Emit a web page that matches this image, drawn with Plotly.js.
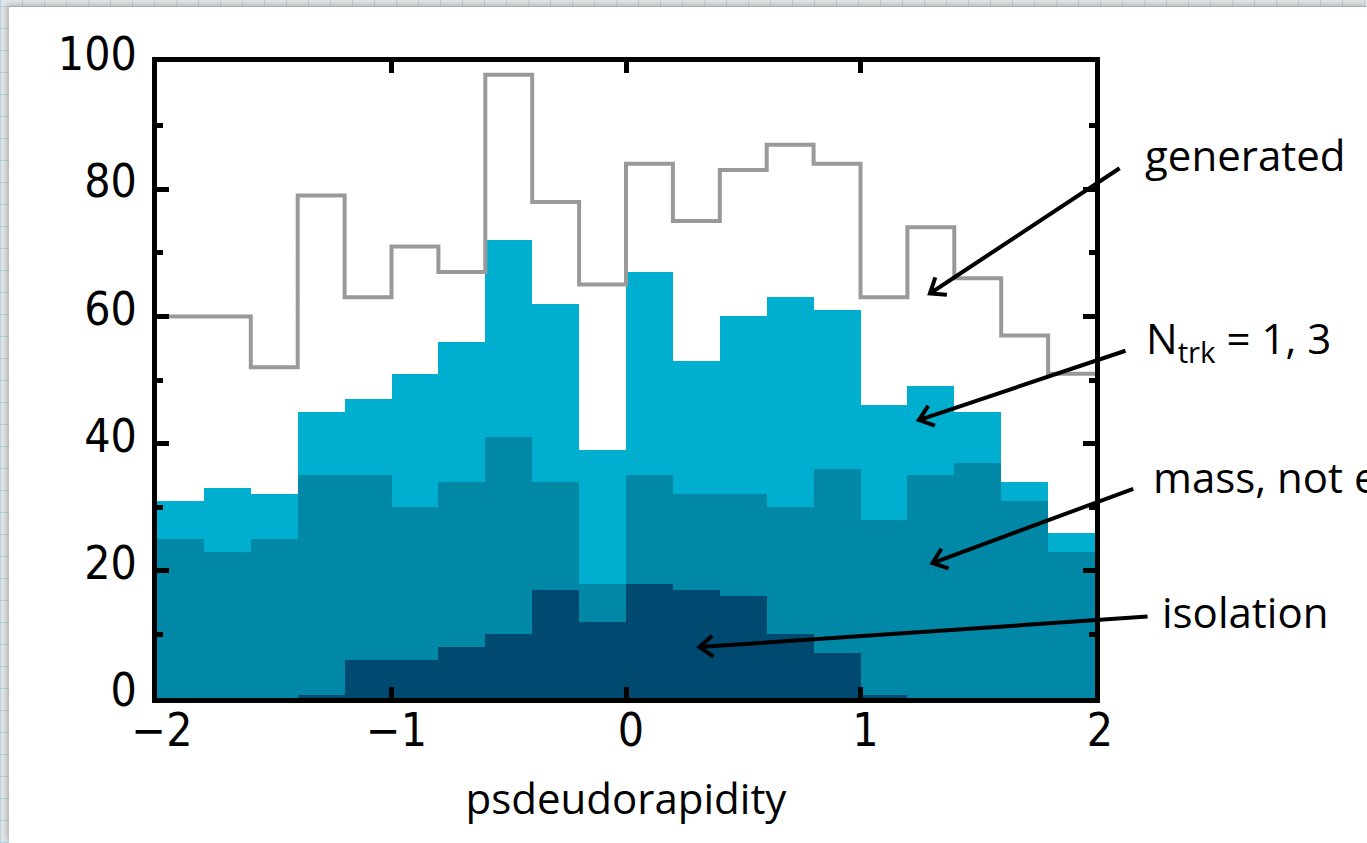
<!DOCTYPE html>
<html>
<head>
<meta charset="utf-8">
<script src="https://cdn.plot.ly/plotly-3.0.1.min.js"></script>
<style>
  html, body { margin: 0; padding: 0; }
  body {
    width: 1367px; height: 843px; overflow: hidden; position: relative;
    background-color: #e1e3e4;
    background-image:
      repeating-linear-gradient(0deg, rgba(165,205,218,0.7) 0 1px, transparent 1px 22px),
      repeating-linear-gradient(90deg, rgba(165,205,218,0.7) 0 1px, transparent 1px 22px);
  }
  #panel {
    position: absolute; left: 9px; top: 7px; right: 0; bottom: 0;
    background: #ffffff;
    box-shadow: -2px -2px 5px rgba(0,0,0,0.22);
  }
  #chart { position: absolute; left: 0; top: 0; width: 1367px; height: 843px; }
</style>
</head>
<body>
<div id="panel"></div>
<div id="chart"></div>
<script>
// Pseudorapidity bins (centres, width 0.2) from -2 to 2
const binCenters = [-1.9, -1.7, -1.5, -1.3, -1.1, -0.9, -0.7, -0.5, -0.3, -0.1,
                     0.1,  0.3,  0.5,  0.7,  0.9,  1.1,  1.3,  1.5,  1.7,  1.9];
const binEdges = [-2.0, -1.8, -1.6, -1.4, -1.2, -1.0, -0.8, -0.6, -0.4, -0.2, 0.0,
                   0.2,  0.4,  0.6,  0.8,  1.0,  1.2,  1.4,  1.6,  1.8,  2.0];
const binWidth = 0.2;

// Event counts per bin after each selection stage
const generated = [60, 60, 52, 79, 63, 71, 67, 98, 78, 65, 84, 75, 83, 87, 84, 63, 74, 66, 57, 51];
const nTrk13    = [31, 33, 32, 45, 47, 51, 56, 72, 62, 39, 67, 53, 60, 63, 61, 46, 49, 45, 34, 26];
const massNotE  = [25, 23, 25, 35, 35, 30, 34, 41, 34, 18, 35, 32, 32, 30, 36, 28, 35, 37, 31, 23];
const isolation = [0, 0, 0, 0.4, 6, 6, 8, 10, 17, 12, 18, 17, 16, 10, 7, 0.4, 0, 0, 0, 0];

const xRange = [-2, 2];
const yRange = [0, 100];

const W = 1367, H = 843;
const M = { l: 157, r: 272, t: 62, b: 145 };
const plotW = W - M.l - M.r, plotH = H - M.t - M.b;

function bars(y, color, name) {
  return {
    type: 'bar', x: binCenters, y: y, width: binWidth, name: name,
    marker: { color: color, line: { width: 0 } },
    hoverinfo: 'x+y'
  };
}

const traces = [
  bars(nTrk13, '#00afd0', 'N_trk = 1, 3'),
  bars(massNotE, '#0088a6', 'mass, not e'),
  bars(isolation, '#004a71', 'isolation'),
  {
    type: 'scatter', mode: 'lines', name: 'generated',
    x: binEdges, y: generated.concat([generated[generated.length - 1]]),
    line: { shape: 'hv', color: '#999999', width: 4 },
    hoverinfo: 'x+y'
  }
];

// Convert data units to pixel offsets inside the plot area and to paper units
function toPx(x, y) {
  return [ (x - xRange[0]) / (xRange[1] - xRange[0]) * plotW,
           (1 - (y - yRange[0]) / (yRange[1] - yRange[0])) * plotH ];
}
function toPaper(p) { return [p[0] / plotW, 1 - p[1] / plotH]; }

// Arrow from a label towards a histogram, with an open chevron head
function arrowPath(tail, head) {
  const t = toPx(tail[0], tail[1]);
  const h = toPx(head[0], head[1]);
  const dx = h[0] - t[0], dy = h[1] - t[1];
  const len = Math.hypot(dx, dy);
  const ux = dx / len, uy = dy / len;
  const L = 17, a = 38 * Math.PI / 180;
  const arm = s => {
    const c = Math.cos(s * a), sn = Math.sin(s * a);
    const rx = ux * c - uy * sn, ry = ux * sn + uy * c;
    return [h[0] - L * rx, h[1] - L * ry];
  };
  const P = [t, h, arm(1), arm(-1)].map(toPaper);
  const f = p => p[0].toFixed(5) + ',' + p[1].toFixed(5);
  return 'M' + f(P[0]) + 'L' + f(P[1]) + 'M' + f(P[2]) + 'L' + f(P[1]) + 'L' + f(P[3]);
}

const arrows = [
  { tail: [2.105, 83.3], head: [1.296, 63.6] },
  { tail: [2.130, 54.6], head: [1.249, 43.7] },
  { tail: [2.163, 32.9], head: [1.307, 21.2] },
  { tail: [2.224, 12.8], head: [0.313, 8.0] }
];

const shapes = arrows.map(a => ({
  type: 'path', xref: 'paper', yref: 'paper', layer: 'above',
  path: arrowPath(a.tail, a.head),
  line: { color: '#000000', width: 4 }
}));

const labelFont = { family: '"Open Sans", "Noto Sans", sans-serif', size: 42, color: '#000000' };
const labels = [
  { text: 'generated', x: 2.205, y: 85.4 },
  { text: 'N<sub>trk</sub> = 1, 3', x: 2.208, y: 56.2 },
  { text: 'mass, not e', x: 2.240, y: 34.9 },
  { text: 'isolation', x: 2.279, y: 13.6 }
];
const annotations = labels.map(l => {
  const p = toPaper(toPx(l.x, l.y));
  return {
    xref: 'paper', yref: 'paper', x: p[0], y: p[1],
    xanchor: 'left', yanchor: 'middle', showarrow: false,
    text: l.text, font: labelFont
  };
});

const tickFont = { family: '"DejaVu Sans Condensed", "Liberation Sans Narrow", sans-serif', size: 46, color: '#000000' };

const layout = {
  width: W, height: H, margin: M,
  paper_bgcolor: 'rgba(0,0,0,0)', plot_bgcolor: 'rgba(0,0,0,0)',
  showlegend: false, barmode: 'overlay', bargap: 0,
  xaxis: {
    range: xRange, tickvals: [-2, -1, 0, 1, 2],
    ticks: 'inside', ticklen: 11, tickwidth: 5, tickcolor: '#000',
    showline: true, linewidth: 5, linecolor: '#000', mirror: 'allticks',
    showgrid: false, zeroline: false,
    tickfont: tickFont, ticklabelstandoff: -12, ticklabelshift: 5,
    title: { text: 'psdeudorapidity', font: { family: '"Open Sans", "Noto Sans", sans-serif', size: 42, color: '#000' }, standoff: 30 }
  },
  yaxis: {
    range: yRange, tickvals: [0, 20, 40, 60, 80, 100],
    ticks: 'inside', ticklen: 12, tickwidth: 5, tickcolor: '#000',
    minor: { tickvals: [10, 30, 50, 70, 90], ticks: 'inside', ticklen: 6, tickwidth: 5, tickcolor: '#000' },
    showline: true, linewidth: 5, linecolor: '#000', mirror: 'allticks',
    showgrid: false, zeroline: false,
    tickfont: tickFont, ticklabelstandoff: 6, ticklabelshift: -8
  },
  shapes: shapes,
  annotations: annotations
};

Plotly.newPlot('chart', traces, layout, { displayModeBar: false, staticPlot: true });
</script>
</body>
</html>
